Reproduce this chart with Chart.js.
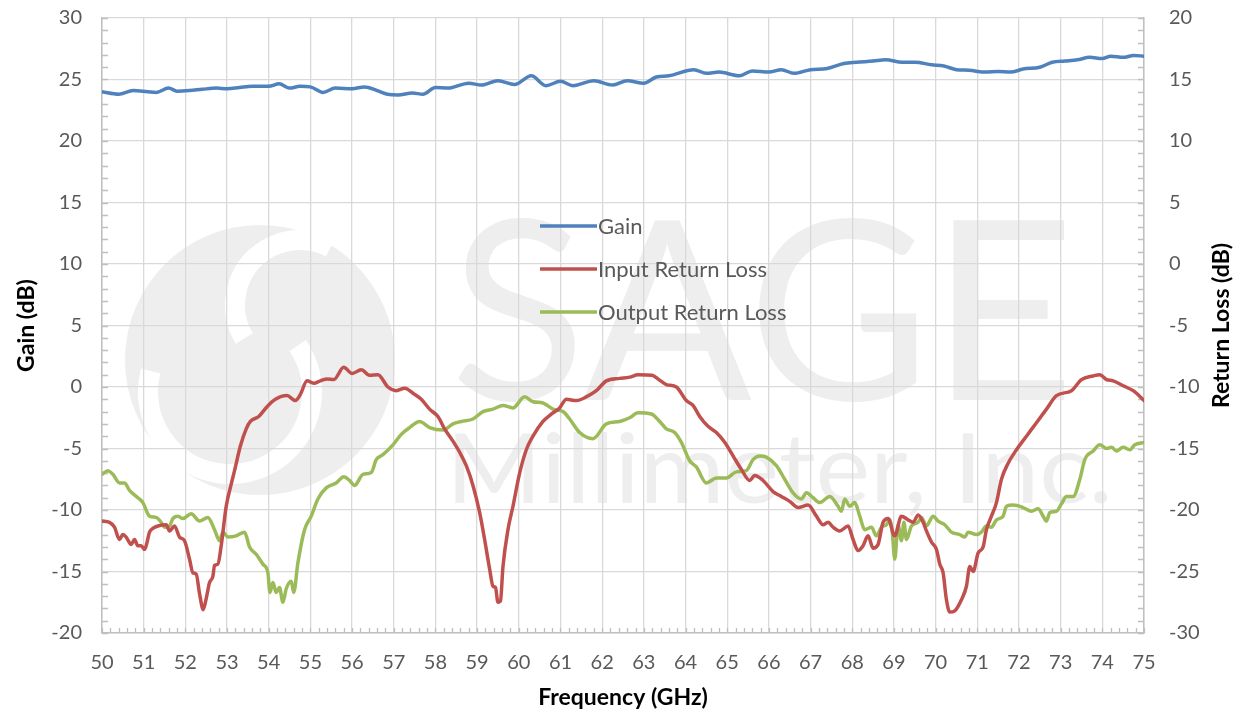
<!DOCTYPE html>
<html>
<head>
<meta charset="utf-8">
<title>Gain / Return Loss vs Frequency</title>
<script src="https://cdn.jsdelivr.net/npm/chart.js@4/dist/chart.umd.min.js"></script>
<style>
  html, body { margin: 0; padding: 0; background: #ffffff; }
  #wrap { position: relative; width: 1246px; height: 713px; }
</style>
</head>
<body>
<div id="wrap"><canvas id="chart"></canvas></div>
<script>
// 数据
const seriesLabels = ['Gain', 'Input Return Loss', 'Output Return Loss'];
const seriesColors = ['#4F81BD', '#C0504D', '#9BBB59'];

const gainFreq = [50.0, 50.4, 50.75, 51.1, 51.3, 51.6, 51.8, 52.1, 52.4, 52.75, 53.0, 53.3, 53.6, 54.0, 54.25, 54.5, 54.75, 55.0, 55.3, 55.6, 56.0, 56.3, 56.6, 56.85, 57.1, 57.45, 57.7, 58.0, 58.3, 58.8, 59.1, 59.5, 59.9, 60.3, 60.65, 61.0, 61.3, 61.8, 62.25, 62.6, 63.0, 63.3, 63.6, 64.2, 64.5, 64.8, 65.3, 65.6, 66.0, 66.3, 66.6, 67.0, 67.4, 67.8, 68.1, 68.5, 68.8, 69.2, 69.5, 69.9, 70.2, 70.5, 70.8, 71.2, 71.5, 71.8, 72.1, 72.5, 72.8, 73.1, 73.4, 73.7, 74.0, 74.2, 74.5, 74.75, 75.0];
const gainDb = [24.0, 23.8, 24.1, 24.0, 23.95, 24.3, 24.05, 24.1, 24.2, 24.3, 24.25, 24.35, 24.45, 24.45, 24.65, 24.3, 24.45, 24.4, 23.95, 24.3, 24.25, 24.4, 24.1, 23.8, 23.75, 23.9, 23.8, 24.35, 24.3, 24.7, 24.55, 24.9, 24.6, 25.3, 24.5, 24.85, 24.5, 24.9, 24.55, 24.9, 24.7, 25.2, 25.3, 25.8, 25.5, 25.6, 25.3, 25.7, 25.6, 25.8, 25.5, 25.8, 25.9, 26.3, 26.4, 26.5, 26.6, 26.4, 26.4, 26.2, 26.1, 25.8, 25.75, 25.6, 25.65, 25.6, 25.85, 26.0, 26.4, 26.5, 26.6, 26.8, 26.7, 26.9, 26.8, 26.95, 26.9];

const inFreq = [50.0, 50.18, 50.3, 50.42, 50.5, 50.58, 50.7, 50.78, 50.86, 50.94, 51.02, 51.06, 51.14, 51.22, 51.34, 51.54, 51.62, 51.74, 51.86, 51.98, 52.1, 52.18, 52.26, 52.34, 52.43, 52.5, 52.58, 52.66, 52.7, 52.78, 52.86, 52.98, 53.1, 53.18, 53.32, 53.46, 53.56, 53.76, 53.96, 54.16, 54.44, 54.64, 54.76, 54.92, 55.08, 55.24, 55.4, 55.56, 55.8, 56.0, 56.22, 56.42, 56.62, 56.86, 57.06, 57.26, 57.5, 57.66, 57.86, 58.06, 58.22, 58.42, 58.58, 58.74, 58.9, 59.06, 59.18, 59.3, 59.38, 59.44, 59.5, 59.56, 59.62, 59.74, 59.86, 60.02, 60.18, 60.34, 60.58, 60.78, 60.98, 61.14, 61.38, 61.62, 61.86, 62.1, 62.42, 62.66, 62.86, 63.2, 63.36, 63.54, 63.78, 64.02, 64.18, 64.34, 64.54, 64.74, 64.94, 65.14, 65.34, 65.54, 65.66, 65.86, 66.1, 66.3, 66.5, 66.7, 66.94, 67.14, 67.3, 67.42, 67.54, 67.7, 67.9, 68.02, 68.14, 68.26, 68.38, 68.5, 68.62, 68.74, 68.86, 69.02, 69.18, 69.34, 69.46, 69.58, 69.7, 69.78, 69.9, 70.02, 70.1, 70.18, 70.26, 70.34, 70.46, 70.62, 70.74, 70.82, 70.9, 71.02, 71.14, 71.22, 71.34, 71.46, 71.58, 71.74, 71.94, 72.18, 72.42, 72.66, 72.9, 73.26, 73.5, 73.78, 73.94, 74.1, 74.26, 74.5, 74.74, 75.0];
const inputRL = [-20.9, -21.0, -21.4, -22.4, -22.0, -22.2, -22.8, -22.4, -22.9, -22.9, -23.2, -22.9, -21.8, -21.5, -21.3, -21.2, -21.7, -21.3, -22.2, -22.5, -24.0, -25.1, -25.2, -26.8, -28.1, -27.2, -25.9, -25.4, -24.5, -24.4, -22.9, -19.7, -17.9, -16.8, -14.8, -13.4, -12.8, -12.4, -11.6, -11.0, -10.7, -11.1, -10.6, -9.5, -9.7, -9.5, -9.35, -9.4, -8.4, -8.9, -8.6, -9.05, -9.0, -10.0, -10.3, -10.1, -10.6, -11.0, -11.8, -12.4, -13.4, -14.4, -15.3, -16.4, -18.0, -20.2, -22.4, -24.8, -26.2, -26.3, -27.5, -27.4, -24.6, -21.6, -19.7, -17.0, -15.1, -14.0, -12.8, -12.2, -11.7, -11.0, -11.1, -10.8, -10.3, -9.5, -9.3, -9.2, -9.0, -9.05, -9.4, -9.8, -10.0, -11.1, -11.5, -12.4, -13.2, -13.7, -14.5, -15.6, -16.7, -17.6, -17.2, -17.6, -18.5, -18.9, -19.3, -19.8, -19.6, -20.5, -21.2, -21.0, -21.4, -21.7, -21.3, -22.4, -23.3, -22.9, -22.1, -23.1, -22.8, -21.0, -20.7, -22.1, -20.5, -20.8, -21.0, -20.4, -21.0, -21.7, -22.6, -23.2, -24.4, -25.1, -27.3, -28.3, -28.2, -27.3, -26.2, -24.6, -25.0, -23.5, -23.0, -21.6, -20.5, -19.4, -17.5, -16.2, -15.1, -14.0, -12.9, -11.8, -10.7, -10.3, -9.4, -9.1, -9.0, -9.4, -9.5, -9.9, -10.3, -11.1];

const outFreq = [50.0, 50.14, 50.26, 50.42, 50.54, 50.66, 50.86, 50.98, 51.14, 51.3, 51.42, 51.5, 51.62, 51.7, 51.82, 51.94, 52.14, 52.34, 52.54, 52.7, 52.82, 52.9, 53.02, 53.22, 53.42, 53.54, 53.7, 53.86, 53.98, 54.03, 54.1, 54.18, 54.26, 54.34, 54.42, 54.54, 54.6, 54.7, 54.86, 55.02, 55.18, 55.38, 55.62, 55.8, 55.94, 56.06, 56.26, 56.46, 56.58, 56.74, 56.98, 57.18, 57.38, 57.62, 57.86, 58.18, 58.42, 58.62, 58.9, 59.14, 59.38, 59.62, 59.86, 60.14, 60.34, 60.58, 60.82, 61.06, 61.22, 61.46, 61.78, 62.1, 62.42, 62.66, 62.86, 63.18, 63.38, 63.54, 63.74, 63.9, 64.1, 64.26, 64.5, 64.74, 64.98, 65.22, 65.46, 65.62, 65.78, 65.94, 66.18, 66.38, 66.58, 66.78, 66.9, 67.06, 67.22, 67.46, 67.66, 67.74, 67.82, 67.94, 68.06, 68.18, 68.3, 68.46, 68.58, 68.7, 68.82, 68.9, 68.96, 69.02, 69.1, 69.18, 69.24, 69.3, 69.42, 69.58, 69.66, 69.78, 69.94, 70.06, 70.22, 70.38, 70.58, 70.7, 70.78, 70.98, 71.1, 71.22, 71.34, 71.46, 71.62, 71.7, 71.86, 72.1, 72.3, 72.46, 72.58, 72.66, 72.74, 72.9, 73.02, 73.14, 73.3, 73.46, 73.58, 73.78, 73.94, 74.1, 74.22, 74.34, 74.5, 74.66, 74.78, 75.0];
const outputRL = [-17.1, -16.8, -17.1, -17.8, -17.8, -18.4, -19.0, -19.4, -20.5, -20.6, -21.0, -21.4, -21.3, -20.7, -20.5, -20.7, -20.3, -20.9, -20.6, -21.6, -22.5, -21.8, -22.2, -22.1, -21.8, -23.0, -23.6, -24.4, -25.1, -26.7, -25.9, -26.7, -26.3, -27.5, -26.4, -25.8, -26.7, -24.3, -21.6, -20.5, -19.1, -18.2, -17.8, -17.3, -17.6, -18.0, -17.1, -16.95, -15.9, -15.5, -14.7, -13.85, -13.3, -12.8, -13.3, -13.5, -13.0, -12.8, -12.6, -12.0, -11.8, -11.5, -11.7, -10.8, -11.2, -11.3, -11.8, -12.0, -12.6, -13.7, -14.2, -13.0, -12.8, -12.5, -12.1, -12.2, -12.8, -13.4, -13.7, -14.5, -16.0, -16.5, -17.8, -17.4, -17.4, -16.9, -16.8, -15.9, -15.6, -15.7, -16.4, -17.5, -18.6, -19.1, -18.6, -19.0, -19.4, -18.9, -19.7, -20.1, -19.1, -19.7, -19.4, -20.5, -21.6, -21.4, -22.1, -21.4, -21.2, -20.8, -21.8, -24.0, -21.2, -22.5, -21.0, -22.4, -21.3, -21.0, -20.6, -21.3, -20.5, -20.9, -21.2, -21.8, -22.0, -22.2, -21.8, -22.0, -21.8, -21.3, -21.4, -20.8, -20.5, -19.7, -19.6, -19.8, -20.1, -19.9, -20.5, -20.9, -20.2, -20.1, -19.5, -18.9, -18.9, -17.5, -15.9, -15.2, -14.7, -15.0, -14.9, -15.2, -14.9, -15.1, -14.7, -14.5];

const freqRange = [50, 75];
const gainRange = [-20, 30];
const rlRange = [-30, 20];

const tickColor = '#595959';
const gridColor = '#d9d9d9';
const axisColor = '#bfbfbf';
const fontFamily = 'Lato';

function toPoints(xs, ys) {
    return xs.map((x, i) => ({ x: x, y: ys[i] }));
}

// 水印 (SAGE Millimeter, Inc.)
function fitText(ctx, text, x0, x1, baseline, size) {
    ctx.font = size + 'px ' + fontFamily;
    const w = ctx.measureText(text).width;
    ctx.save();
    ctx.translate(x0, baseline);
    ctx.scale((x1 - x0) / w, 1);
    ctx.fillText(text, 0, 0);
    ctx.restore();
}

const watermark = {
    id: 'watermark',
    beforeDraw(chart) {
        const ctx = chart.ctx;
        ctx.save();
        ctx.fillStyle = '#eeeeee';
        ctx.beginPath();
        ctx.arc(260, 360, 135, 0, Math.PI * 2);
        ctx.fill();
        ctx.strokeStyle = '#ffffff';
        ctx.lineWidth = 20;
        ctx.beginPath();
        ctx.arc(230, 392, 82, -0.6, 3.4);
        ctx.stroke();
        ctx.beginPath();
        ctx.arc(300, 305, 65, 2.6, 5.2);
        ctx.stroke();
        ctx.fillStyle = '#eeeeee';
        fitText(ctx, 'SAGE', 450, 1075, 400, 250);
        fitText(ctx, 'Millimeter, Inc.', 446, 1113, 503, 96);
        ctx.restore();
    }
};

// 次刻度线
const minorTicks = {
    id: 'minorTicks',
    beforeDatasetsDraw(chart) {
        const ctx = chart.ctx;
        const { x, y, y1 } = chart.scales;
        const area = chart.chartArea;
        ctx.save();
        ctx.strokeStyle = axisColor;
        ctx.lineWidth = 1.3;
        ctx.beginPath();
        for (let v = gainRange[0]; v <= gainRange[1]; v++) {
            const py = Math.round(y.getPixelForValue(v)) + 0.5;
            ctx.moveTo(area.left, py);
            ctx.lineTo(area.left + 6, py);
        }
        for (let v = rlRange[0]; v <= rlRange[1]; v++) {
            const py = Math.round(y1.getPixelForValue(v)) + 0.5;
            ctx.moveTo(area.right - 6, py);
            ctx.lineTo(area.right, py);
        }
        for (let i = 0; i <= 125; i++) {
            const px = Math.round(x.getPixelForValue(freqRange[0] + i * 0.2)) + 0.5;
            ctx.moveTo(px, area.bottom);
            ctx.lineTo(px, area.bottom - 5);
        }
        ctx.stroke();
        ctx.restore();
    }
};

// 图内图例
const insideLegend = {
    id: 'insideLegend',
    afterDatasetsDraw(chart, args, opts) {
        const ctx = chart.ctx;
        ctx.save();
        ctx.font = '22px ' + fontFamily;
        ctx.textBaseline = 'middle';
        chart.data.datasets.forEach((ds, i) => {
            const yy = opts.top + i * opts.gap;
            ctx.strokeStyle = ds.borderColor;
            ctx.lineWidth = 3.5;
            ctx.beginPath();
            ctx.moveTo(opts.left, yy);
            ctx.lineTo(opts.left + 57, yy);
            ctx.stroke();
            ctx.fillStyle = tickColor;
            ctx.fillText(ds.label, opts.left + 58, yy + 1);
        });
        ctx.restore();
    }
};

// 右轴标题（自下而上）
const rightTitle = {
    id: 'rightTitle',
    afterDraw(chart, args, opts) {
        const ctx = chart.ctx;
        const area = chart.chartArea;
        ctx.save();
        ctx.translate(opts.x, (area.top + area.bottom) / 2);
        ctx.rotate(-Math.PI / 2);
        ctx.font = 'bold 23px ' + fontFamily;
        ctx.fillStyle = '#000000';
        ctx.textAlign = 'center';
        ctx.textBaseline = 'middle';
        ctx.fillText(opts.text, 0, 0);
        ctx.restore();
    }
};

const tickFont = { family: fontFamily, size: 20 };
const titleFont = { family: fontFamily, size: 23, weight: 'bold' };

// 固定轴的尺寸，使绘图区与原图一致
function fixVertical(s) {
    s.width = 102;
    s.paddingTop = 0;
    s.paddingBottom = 0;
}

new Chart(document.getElementById('chart'), {
    type: 'line',
    data: {
        datasets: [
            { label: seriesLabels[0], data: toPoints(gainFreq, gainDb), borderColor: seriesColors[0], yAxisID: 'y' },
            { label: seriesLabels[1], data: toPoints(inFreq, inputRL), borderColor: seriesColors[1], yAxisID: 'y1' },
            { label: seriesLabels[2], data: toPoints(outFreq, outputRL), borderColor: seriesColors[2], yAxisID: 'y1' }
        ]
    },
    plugins: [watermark, minorTicks, insideLegend, rightTitle],
    options: {
        responsive: true,
        maintainAspectRatio: false,
        animation: false,
        layout: { padding: { top: 18, left: 0, right: 0, bottom: 0 } },
        elements: {
            point: { radius: 0 },
            line: { borderWidth: 3.5, cubicInterpolationMode: 'monotone', borderCapStyle: 'round', borderJoinStyle: 'round' }
        },
        plugins: {
            legend: { display: false },
            tooltip: { enabled: false },
            insideLegend: { left: 540, top: 226, gap: 43 },
            rightTitle: { x: 1222, text: 'Return Loss (dB)' }
        },
        scales: {
            x: {
                type: 'linear',
                min: freqRange[0],
                max: freqRange[1],
                ticks: { stepSize: 1, autoSkip: false, maxRotation: 0, color: tickColor, font: tickFont, padding: 18 },
                grid: { color: gridColor, lineWidth: 1.3, drawTicks: false },
                border: { color: axisColor, width: 1.5 },
                title: { display: true, text: 'Frequency (GHz)', color: '#000000', font: titleFont, padding: { top: 0, bottom: 2 } },
                afterFit: s => { s.height = 80; s.paddingLeft = 0; s.paddingRight = 0; }
            },
            y: {
                position: 'left',
                min: gainRange[0],
                max: gainRange[1],
                ticks: { stepSize: 5, color: tickColor, font: tickFont, padding: 20 },
                grid: { color: gridColor, lineWidth: 1.3, drawTicks: false },
                border: { color: axisColor, width: 1.5 },
                title: { display: true, text: 'Gain (dB)', color: '#000000', font: titleFont, padding: { top: 13, bottom: 0 } },
                afterFit: fixVertical
            },
            y1: {
                position: 'right',
                min: rlRange[0],
                max: rlRange[1],
                ticks: { stepSize: 5, color: tickColor, font: tickFont, padding: 25 },
                grid: { drawOnChartArea: false, drawTicks: false },
                border: { color: axisColor, width: 1.5 },
                afterFit: fixVertical
            }
        }
    }
});
</script>
</body>
</html>
